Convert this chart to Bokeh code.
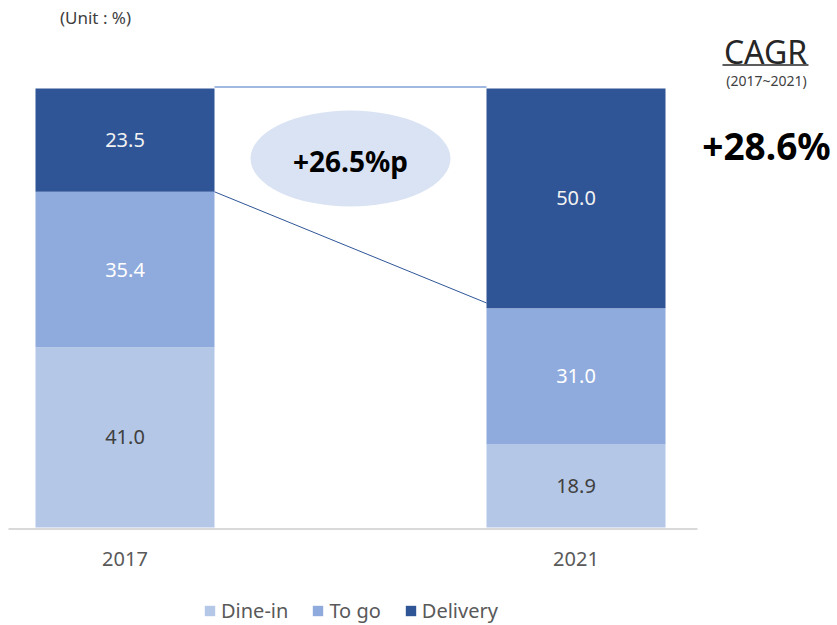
from bokeh.plotting import figure
from bokeh.models import Range1d, Legend, LegendItem, ColumnDataSource
from bokeh.core.properties import value
from bokeh.embed import file_html
from bokeh.resources import INLINE

# ---- data ----
years = ["2017", "2021"]
series = ["Dine-in", "To go", "Delivery"]
dine_in = [41.0, 18.9]
to_go = [35.4, 31.0]
delivery = [23.5, 50.0]
colors = ["#b4c7e7", "#8faadc", "#2f5597"]
label_colors = ["#404040", "#ffffff", "#f2f2f2"]
gap_text = "+26.5%p"
cagr_title = "CAGR"
cagr_period = "(2017~2021)"
cagr_value = "+28.6%"
unit_text = "(Unit : %)"

FONT = "Noto Sans"
W, H = 837, 625
PXX, PXY = 451.0, 4.394          # pixels per x unit / per percent
x_start = (0 - 124.5) / PXX
x_end = x_start + W / PXX
y_end = (527 - 0) / PXY
y_start = y_end - H / PXY


def X(px):
    return (px - 124.5) / PXX


def Y(py):
    return (527 - py) / PXY


xs = [0, 1]
bar_w = 179 / PXX

p = figure(width=W, height=H, x_range=Range1d(x_start, x_end),
           y_range=Range1d(y_start, y_end), output_backend="svg",
           toolbar_location=None, min_border=0, outline_line_color=None,
           x_axis_location=None, y_axis_location=None,
           background_fill_color="white", border_fill_color="white")
p.grid.visible = False

# baseline (category axis line)
p.segment(x0=[X(8)], y0=[Y(528.5)], x1=[X(697)], y1=[Y(528.5)],
          line_color="#d9d9d9", line_width=2)

src = ColumnDataSource(dict(x=xs, **{"Dine-in": dine_in, "To go": to_go, "Delivery": delivery}))
rs = p.vbar_stack(series, x="x", width=bar_w, color=colors, line_color=None, source=src)

# connector lines
tot = [a + b + c for a, b, c in zip(dine_in, to_go, delivery)]
mid = [a + b for a, b in zip(dine_in, to_go)]
p.segment(x0=[xs[0] + bar_w / 2], y0=[tot[0] + 0.35], x1=[xs[1] - bar_w / 2], y1=[tot[1] + 0.35],
          line_color="#4472c4", line_width=1.2)
p.segment(x0=[xs[0] + bar_w / 2], y0=[mid[0]], x1=[xs[1] - bar_w / 2], y1=[mid[1] + 1.2],
          line_color="#2f5597", line_width=1)

# value labels
lx, ly, lt, lc = [], [], [], []
for i, x in enumerate(xs):
    base = 0.0
    for vals, col in zip([dine_in, to_go, delivery], label_colors):
        v = vals[i]
        lx.append(x)
        ly.append(base + v / 2)
        lt.append(f"{v:.1f}")
        lc.append(col)
        base += v
p.text(x=lx, y=ly, text=lt, text_color=lc, text_font=value(FONT), text_font_size="20px",
       text_align="center", text_baseline="middle")

# category labels
p.text(x=xs, y=[Y(558)] * 2, text=years, text_color="#595959", text_font=value(FONT),
       text_font_size="20px", text_align="center", text_baseline="middle")

# ellipse callout
p.ellipse(x=[0.5], y=[Y(158)], width=[200 / PXX], height=[96 / PXY],
          fill_color="#dae3f3", line_color=None)
p.text(x=[0.5], y=[Y(160)], text=[gap_text], text_color="#000000", text_font=value(FONT),
       text_font_size="28px", text_font_style="bold", text_align="center", text_baseline="middle")

# unit
p.text(x=[X(95)], y=[Y(17)], text=[unit_text], text_color="#404040", text_font=value(FONT),
       text_font_size="17px", text_align="center", text_baseline="middle")

# CAGR block
p.text(x=[X(765)], y=[Y(51)], text=[cagr_title], text_color="#262626", text_font=value(FONT),
       text_font_size="32px", text_align="center", text_baseline="middle")
p.segment(x0=[X(722)], y0=[Y(64.5)], x1=[X(808)], y1=[Y(64.5)], line_color="#262626", line_width=1.3)
p.text(x=[X(766)], y=[Y(80)], text=[cagr_period], text_color="#404040", text_font=value(FONT),
       text_font_size="14px", text_align="center", text_baseline="middle")
p.text(x=[X(766)], y=[Y(145)], text=[cagr_value], text_color="#000000", text_font=value(FONT),
       text_font_size="37px", text_font_style="bold", text_align="center", text_baseline="middle")

legend = Legend(items=[LegendItem(label=s, renderers=[r]) for s, r in zip(series, rs)],
                orientation="horizontal", location=(203, 1), glyph_width=13, glyph_height=13,
                label_standoff=5, spacing=23, padding=0, margin=0,
                border_line_color=None, background_fill_alpha=0,
                label_text_font=FONT, label_text_font_size="20px", label_text_color="#595959")
p.add_layout(legend)

open("out.html", "w").write(file_html(p, INLINE))
